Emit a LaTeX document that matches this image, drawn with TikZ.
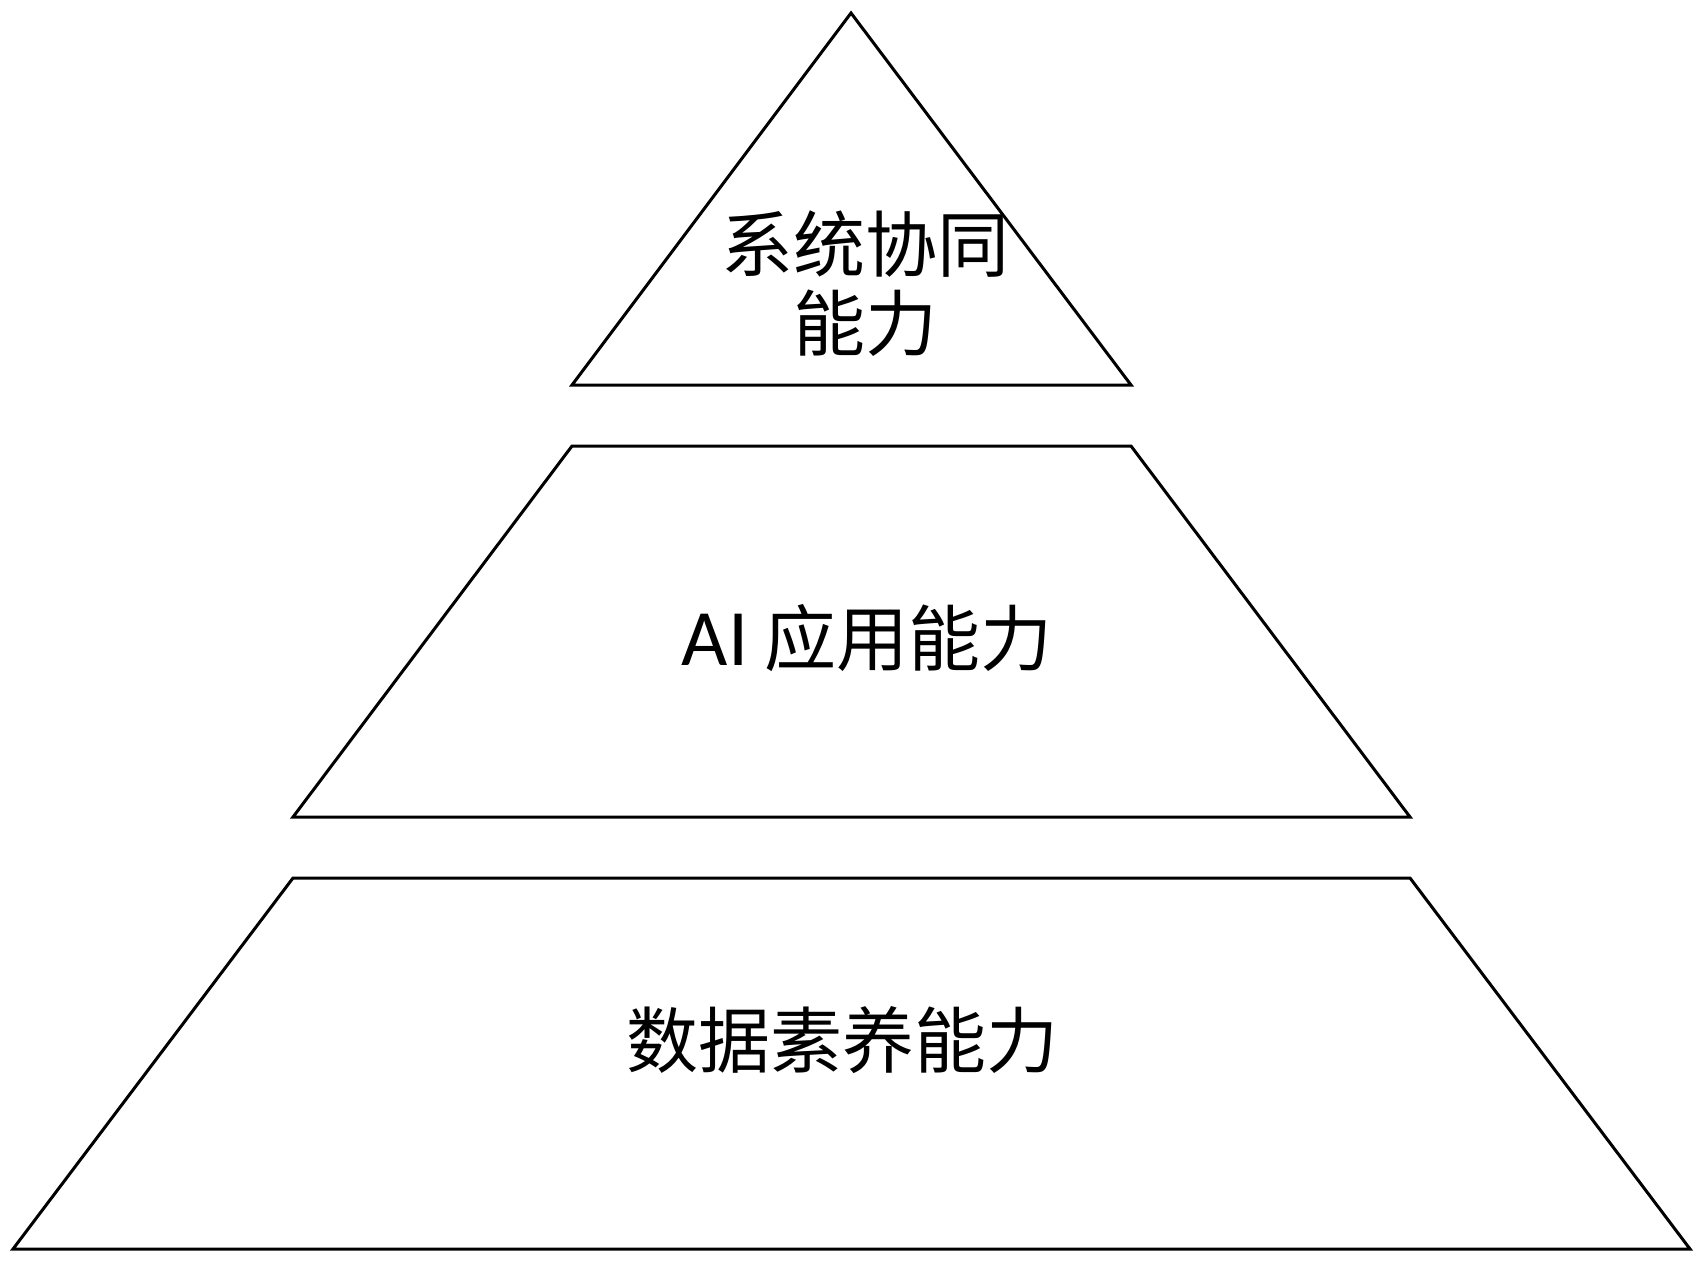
\documentclass[tikz,border=0pt]{standalone}
\usepackage{fontspec}
\newfontfamily\cjk{Noto Sans CJK SC}
\newfontfamily\latinsans{Carlito}
\begin{document}
\begin{tikzpicture}[x=1pt,y=-1pt,
  layer/.style={draw=black,line width=3pt,line join=miter},
  lbl/.style={font=\cjk\fontsize{72}{79}\selectfont,align=center,inner sep=0pt}]
\useasboundingbox (0,0) rectangle (1696,1281);
\coordinate (apex) at (851,13);
\coordinate (t1) at (572,385);
\coordinate (t2) at (1131,385);
\coordinate (m1) at (572,446);
\coordinate (m2) at (1131,446);
\coordinate (m3) at (1410,817);
\coordinate (m4) at (293,817);
\coordinate (b1) at (293,878);
\coordinate (b2) at (1410,878);
\coordinate (b3) at (1690,1249);
\coordinate (b4) at (13,1249);
\draw[layer] (apex) -- (t2) -- (t1) -- cycle;
\draw[layer] (m1) -- (m2) -- (m3) -- (m4) -- cycle;
\draw[layer] (b1) -- (b2) -- (b3) -- (b4) -- cycle;
\node[lbl] (top) at (865,284) {系统协同\\能力};
\node[lbl] (mid) at (867,638) {{\latinsans\fontsize{80}{80}\selectfont AI} 应用能力};
\node[lbl] (bot) at (842,1040) {数据素养能力};
\end{tikzpicture}
\end{document}
